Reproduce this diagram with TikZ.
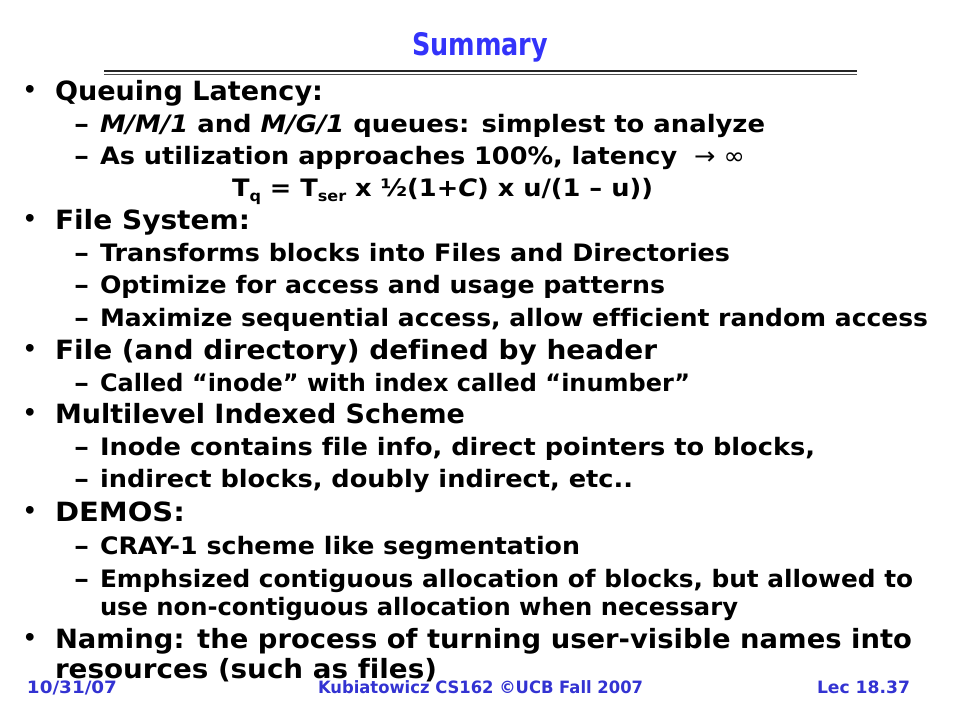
\documentclass[tikz,border=0pt]{standalone}
\usepackage{graphicx}
\usepackage{fontspec}
\setmainfont{DejaVu Sans}[Ligatures={NoCommon}]
\definecolor{titleblue}{RGB}{51,51,250}
\definecolor{footblue}{RGB}{51,51,210}
\newcommand\fitw[2]{\resizebox{#1pt}{\height}{#2}}
\newcommand\sbs[1]{\raisebox{-5.5pt}{\fontsize{15}{15}\selectfont #1}}
\tikzset{
  txt/.style={anchor=base west, inner sep=0pt, outer sep=0pt},
  L1/.style={txt, font=\fontsize{26.5}{30}\selectfont\bfseries},
  L2/.style={txt, font=\fontsize{24}{28}\selectfont\bfseries},
  bul/.style={anchor=center, inner sep=0pt, font=\fontsize{22}{22}\selectfont\bfseries},
  dsh/.style={txt, font=\fontsize{24}{28}\selectfont\bfseries},
  ttl/.style={anchor=base, inner sep=0pt, text=titleblue, font=\fontsize{31}{34}\selectfont\bfseries},
  ftr/.style={txt, text=footblue, font=\fontsize{17}{20}\selectfont\bfseries},
  rulethick/.style={draw=black!85, line width=2pt},
  rulethin/.style={draw=black!70, line width=1pt}
}
\begin{document}
\begin{tikzpicture}[x=1pt,y=-1pt]
\useasboundingbox[fill=white] (0,0) rectangle (960,720);
% title
\node[ttl] (title) at (480,55) {\fitw{136}{Summary}};
\coordinate (r1a) at (104,71); \coordinate (r1b) at (857,71);
\coordinate (r2a) at (104,74); \coordinate (r2b) at (857,74);
\draw[rulethick] (r1a) -- (r1b);
\draw[rulethin] (r2a) -- (r2b);
% body
\node[bul] (b1) at (30,91.5) {•};
\node[L1] (q) at (55,100) {\fitw{268}{Queuing Latency:}};
\node[dsh] (d1) at (74,132) {\fitw{15}{–}};
\node[L2] (mm1) at (100,132) {\fitw{665}{\textit{M/M/1} and \textit{M/G/1} queues: simplest to analyze}};
\node[dsh] (d2) at (74,164) {\fitw{15}{–}};
\node[L2] (util) at (100,164) {\fitw{645}{As utilization approaches 100\%, latency {\mdseries\fontsize{24}{24}\selectfont\ →\ ∞}}};
\node[L2] (tq) at (232,196) {\fitw{421}{T\sbs{q} = T\sbs{ser} x ½(1+\textit{C}) x u/(1 – u))}};
\node[bul] (b2) at (30,220.5) {•};
\node[L1] (fs) at (55,229) {\fitw{195}{File System:}};
\node[dsh] (d3) at (74,261) {\fitw{15}{–}};
\node[L2] (tr) at (100,261) {\fitw{630}{Transforms blocks into Files and Directories}};
\node[dsh] (d4) at (74,293) {\fitw{15}{–}};
\node[L2] (opt) at (100,293) {\fitw{565}{Optimize for access and usage patterns}};
\node[dsh] (d5) at (74,326) {\fitw{15}{–}};
\node[L2] (max) at (100,326) {\fitw{828}{Maximize sequential access, allow efficient random access}};
\node[bul] (b3) at (30,350.5) {•};
\node[L1] (fd) at (55,359) {\fitw{602}{File (and directory) defined by header}};
\node[dsh] (d6) at (74,391) {\fitw{15}{–}};
\node[L2] (cal) at (100,391) {\fitw{590}{Called “inode” with index called “inumber”}};
\node[bul] (b4) at (30,414.5) {•};
\node[L1] (ml) at (55,423) {\fitw{410}{Multilevel Indexed Scheme}};
\node[dsh] (d7) at (74,455) {\fitw{15}{–}};
\node[L2] (ino) at (100,455) {\fitw{715}{Inode contains file info, direct pointers to blocks,}};
\node[dsh] (d8) at (74,487) {\fitw{15}{–}};
\node[L2] (ind) at (100,487) {\fitw{533}{indirect blocks, doubly indirect, etc..}};
\node[bul] (b5) at (30,512.5) {•};
\node[L1] (dem) at (55,521) {\fitw{130}{DEMOS:}};
\node[dsh] (d9) at (74,554) {\fitw{15}{–}};
\node[L2] (cray) at (100,554) {\fitw{480}{CRAY-1 scheme like segmentation}};
\node[dsh] (d10) at (74,587) {\fitw{15}{–}};
\node[L2] (emp) at (100,587) {\fitw{813}{Emphsized contiguous allocation of blocks, but allowed to}};
\node[L2] (use) at (100,615) {\fitw{638}{use non-contiguous allocation when necessary}};
\node[bul] (b6) at (30,639.5) {•};
\node[L1] (nam) at (55,648) {\fitw{857}{Naming: the process of turning user-visible names into}};
\node[L1] (res) at (55,678) {\fitw{382}{resources (such as files)}};
% footer
\node[ftr] (fdate) at (27,693) {\fitw{90}{10/31/07}};
\node[ftr] (fmid) at (318,693) {\fitw{325}{Kubiatowicz CS162 ©UCB Fall 2007}};
\node[ftr] (flec) at (817,693) {\fitw{93}{Lec 18.37}};
\end{tikzpicture}
\end{document}
